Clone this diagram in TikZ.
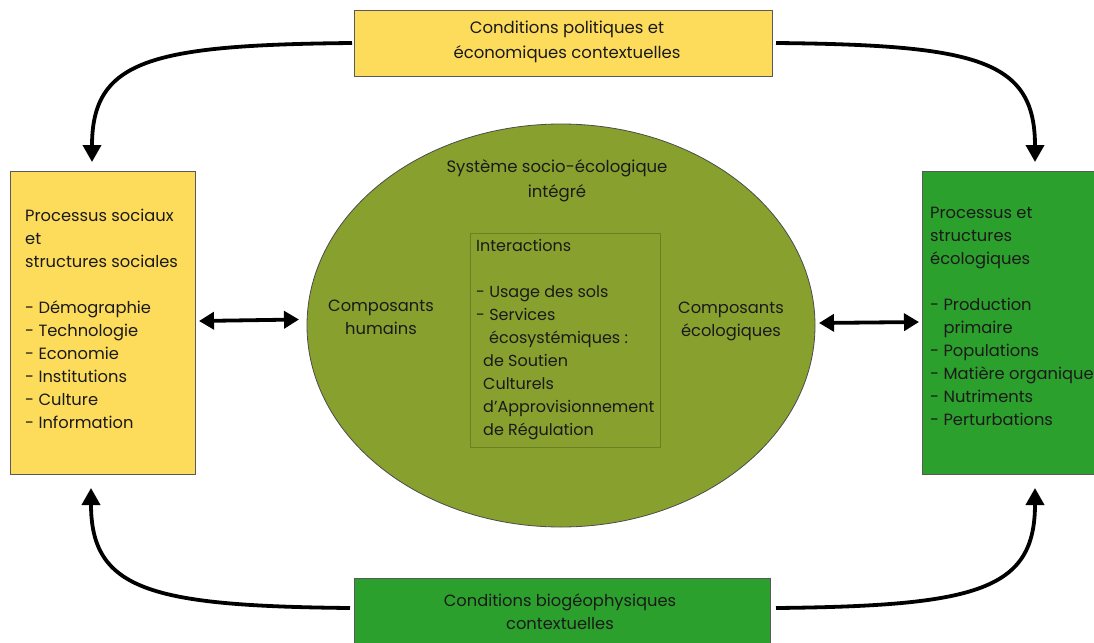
\documentclass[tikz,border=0pt]{standalone}
\usepackage{fontspec}
\setmainfont{Poppins}
\usetikzlibrary{arrows.meta,shapes.geometric}
\definecolor{boxyellow}{HTML}{FDDC5C}
\definecolor{boxgreen}{HTML}{2CA02C}
\definecolor{olive}{HTML}{88A02E}
\definecolor{olivedark}{HTML}{6B7F25}
\definecolor{ink}{HTML}{1A1A1A}
\begin{document}
\begin{tikzpicture}[x=1pt,y=-1pt,
  box/.style={draw=black!65, line width=0.8pt, rectangle, inner sep=0pt},
  txt/.style={text=ink, inner sep=0pt, font=\fontsize{16.3}{23}\selectfont},
  widetxt/.style={text=ink, inner sep=0pt, font=\fontsize{16.5}{25}\selectfont},
  smalltxt/.style={text=ink, inner sep=0pt, font=\fontsize{16}{23}\selectfont},
  flow/.style={line width=3.8pt, -{Triangle[length=17pt,width=18pt]}},
  both/.style={line width=3.8pt, {Triangle[length=15pt,width=17pt]}-{Triangle[length=15pt,width=17pt]}}]
\clip (0,0) rectangle (1094,642);
\fill[white] (0,0) rectangle (1094,642);
% boxes
\node[box, fill=boxyellow, minimum width=418pt, minimum height=66pt] (top) at (563,43) {};
\node[box, fill=boxgreen, minimum width=416pt, minimum height=76pt] (bot) at (562,616) {};
\node[box, fill=boxyellow, minimum width=185pt, minimum height=303pt] (left) at (102.5,322.5) {};
\node[box, fill=boxgreen, minimum width=190pt, minimum height=303pt] (right) at (1017,322.5) {};
\node[ellipse, draw=black!70, line width=0.8pt, fill=olive, minimum width=508pt, minimum height=403pt] (sys) at (561,325.5) {};
\node[draw=olivedark, line width=0.8pt, minimum width=190pt, minimum height=214pt, inner sep=0pt] (inter) at (565,340) {};
% texts
\node[widetxt, align=center] (toptxt) at (567,42) {Conditions politiques et\\économiques contextuelles};
\node[txt, align=center] (bottxt) at (560,612) {Conditions biogéophysiques\\contextuelles};
\node[txt, align=left, anchor=north west] (lefttxt) at (25,209) {Processus sociaux\\et\\structures sociales\\[23pt]- Démographie\\- Technologie\\- Economie\\- Institutions\\- Culture\\- Information};
\node[txt, align=left, anchor=north west] (righttxt) at (930,207) {Processus et\\structures\\écologiques\\[23pt]- Production\\\phantom{- }primaire\\- Populations\\- Matière organique\\- Nutriments\\- Perturbations};
\node[widetxt, align=center] (systxt) at (557,181) {Système socio-écologique\\intégré};
\node[txt, align=center] (hum) at (381,317) {Composants\\humains};
\node[txt, align=center] (eco) at (731,321) {Composants\\écologiques};
\node[smalltxt, align=left, anchor=north west] (intertxt) at (476,239) {Interactions\\[23pt]- Usage des sols\\- Services\\\hspace*{13pt}écosystémiques :\\\hspace*{7pt}de Soutien\\\hspace*{7pt}Culturels\\\hspace*{7pt}d’Approvisionnement\\\hspace*{7pt}de Régulation};
% connector ends
\coordinate (tlend) at (92,162);
\coordinate (trend) at (1035,162);
\coordinate (blend) at (91,488);
\coordinate (brend) at (1035,488);
\coordinate (tstartL) at (352,43);
\coordinate (tstartR) at (776,43);
\coordinate (bstartL) at (350,608);
\coordinate (bstartR) at (776,608);
\draw[flow] (tstartL) .. controls (150,45) and (92,60) .. (tlend);
\draw[flow] (tstartR) .. controls (978,45) and (1035,60) .. (trend);
\draw[flow] (bstartL) .. controls (150,606) and (91,590) .. (blend);
\draw[flow] (bstartR) .. controls (978,606) and (1035,590) .. (brend);
\coordinate (la) at (199,321);
\coordinate (lb) at (299,319.5);
\coordinate (ra) at (819,323);
\coordinate (rb) at (919,322);
\draw[both] (la) -- (lb);
\draw[both] (ra) -- (rb);
\end{tikzpicture}
\end{document}
